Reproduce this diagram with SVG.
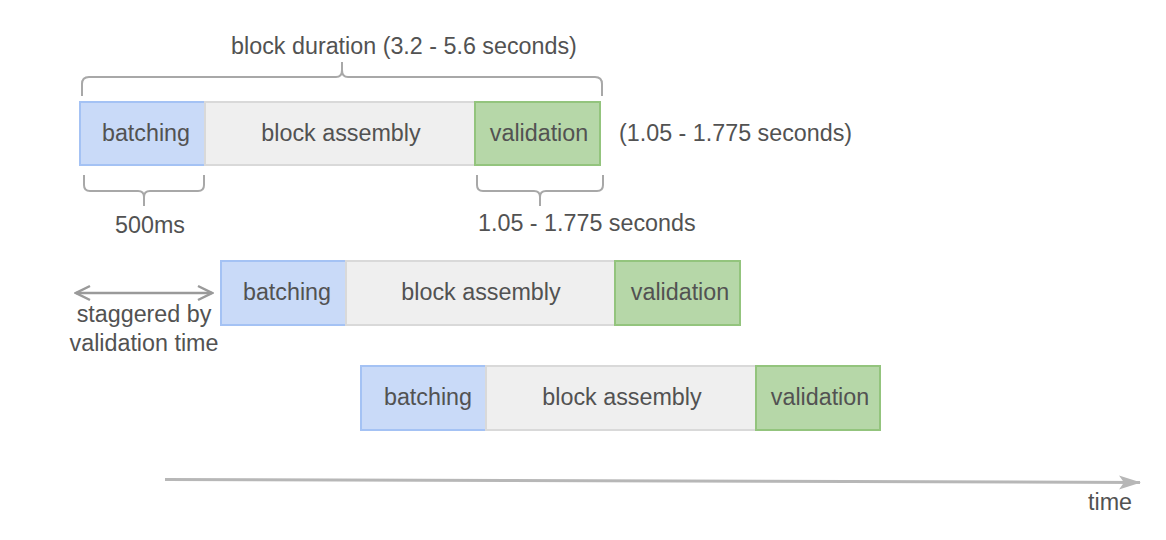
<svg xmlns="http://www.w3.org/2000/svg" width="1166" height="540" viewBox="0 0 1166 540">
  <style>
    text { font-family: "Liberation Sans", Arial, sans-serif; font-size: 23.3px; fill: #525252; }
    .mid { text-anchor: middle; }
    .batch { fill: #c9daf8; stroke: #a4c2f4; stroke-width: 2; }
    .asm { fill: #efefef; stroke: #d9d9d9; stroke-width: 2; }
    .val { fill: #b6d7a8; stroke: #93c47d; stroke-width: 2; }
    .brace { fill: none; stroke: #a8a8a8; stroke-width: 2; }
  </style>
  <defs>
    <marker id="chev" viewBox="0 0 18 18" refX="16" refY="9" markerWidth="18" markerHeight="18" markerUnits="userSpaceOnUse" orient="auto-start-reverse">
      <path d="M2 2 L16 9 L2 16" fill="none" stroke="#9a9a9a" stroke-width="2.5"/>
    </marker>
    <marker id="head" viewBox="0 0 22 16" refX="21" refY="8" markerWidth="22" markerHeight="16" markerUnits="userSpaceOnUse" orient="auto">
      <path d="M0 1 L22 8 L0 15 L5 8 Z" fill="#b7b7b7"/>
    </marker>
  </defs>

  <!-- first block -->
  <g id="block1">
    <rect class="batch" x="80" y="102" width="125" height="63"/>
    <rect class="asm" x="205" y="102" width="270" height="63"/>
    <rect class="val" x="475" y="102" width="125" height="63"/>
    <text class="mid" x="146" y="141">batching</text>
    <text class="mid" x="341" y="141">block assembly</text>
    <text class="mid" x="539" y="141">validation</text>
  </g>

  <!-- second block -->
  <g id="block2">
    <rect class="batch" x="221" y="261" width="125" height="64"/>
    <rect class="asm" x="346" y="261" width="269" height="64"/>
    <rect class="val" x="615" y="261" width="125" height="64"/>
    <text class="mid" x="287" y="300">batching</text>
    <text class="mid" x="481" y="300">block assembly</text>
    <text class="mid" x="680" y="300">validation</text>
  </g>

  <!-- third block -->
  <g id="block3">
    <rect class="batch" x="361" y="366" width="125" height="64"/>
    <rect class="asm" x="486" y="366" width="270" height="64"/>
    <rect class="val" x="756" y="366" width="124" height="64"/>
    <text class="mid" x="428" y="405">batching</text>
    <text class="mid" x="622" y="405">block assembly</text>
    <text class="mid" x="820" y="405">validation</text>
  </g>

  <!-- braces and labels -->
  <g id="annotations">
    <path class="brace" d="M82 96 V84 Q82 77 89 77 H336 Q342 77 342 70 V62 M342 62 V70 Q342 77 348 77 H595 Q602 77 602 84 V96"/>
    <text class="mid" x="404" y="54">block duration (3.2 - 5.6 seconds)</text>

    <path class="brace" d="M84 175 V185 Q84 191 90 191 H138 Q144 191 144 197 V206 M144 206 V197 Q144 191 150 191 H198 Q204 191 204 185 V175"/>
    <text class="mid" x="150" y="233">500ms</text>

    <path class="brace" d="M477 175 V185 Q477 191 483 191 H534 Q540 191 540 197 V206 M540 206 V197 Q540 191 546 191 H597 Q603 191 603 185 V175"/>
    <text x="478" y="231">1.05 - 1.775 seconds</text>

    <text x="619" y="141">(1.05 - 1.775 seconds)</text>

    <text class="mid" x="144" y="322">staggered by</text>
    <text class="mid" x="144" y="351">validation time</text>

    <text x="1088" y="510">time</text>
  </g>

  <!-- connectors -->
  <g id="connectors">
    <line x1="76" y1="293" x2="212" y2="293" stroke="#9a9a9a" stroke-width="2.5" marker-start="url(#chev)" marker-end="url(#chev)"/>
    <line x1="165" y1="479.5" x2="1140" y2="482.5" stroke="#b7b7b7" stroke-width="3" marker-end="url(#head)"/>
  </g>
</svg>
